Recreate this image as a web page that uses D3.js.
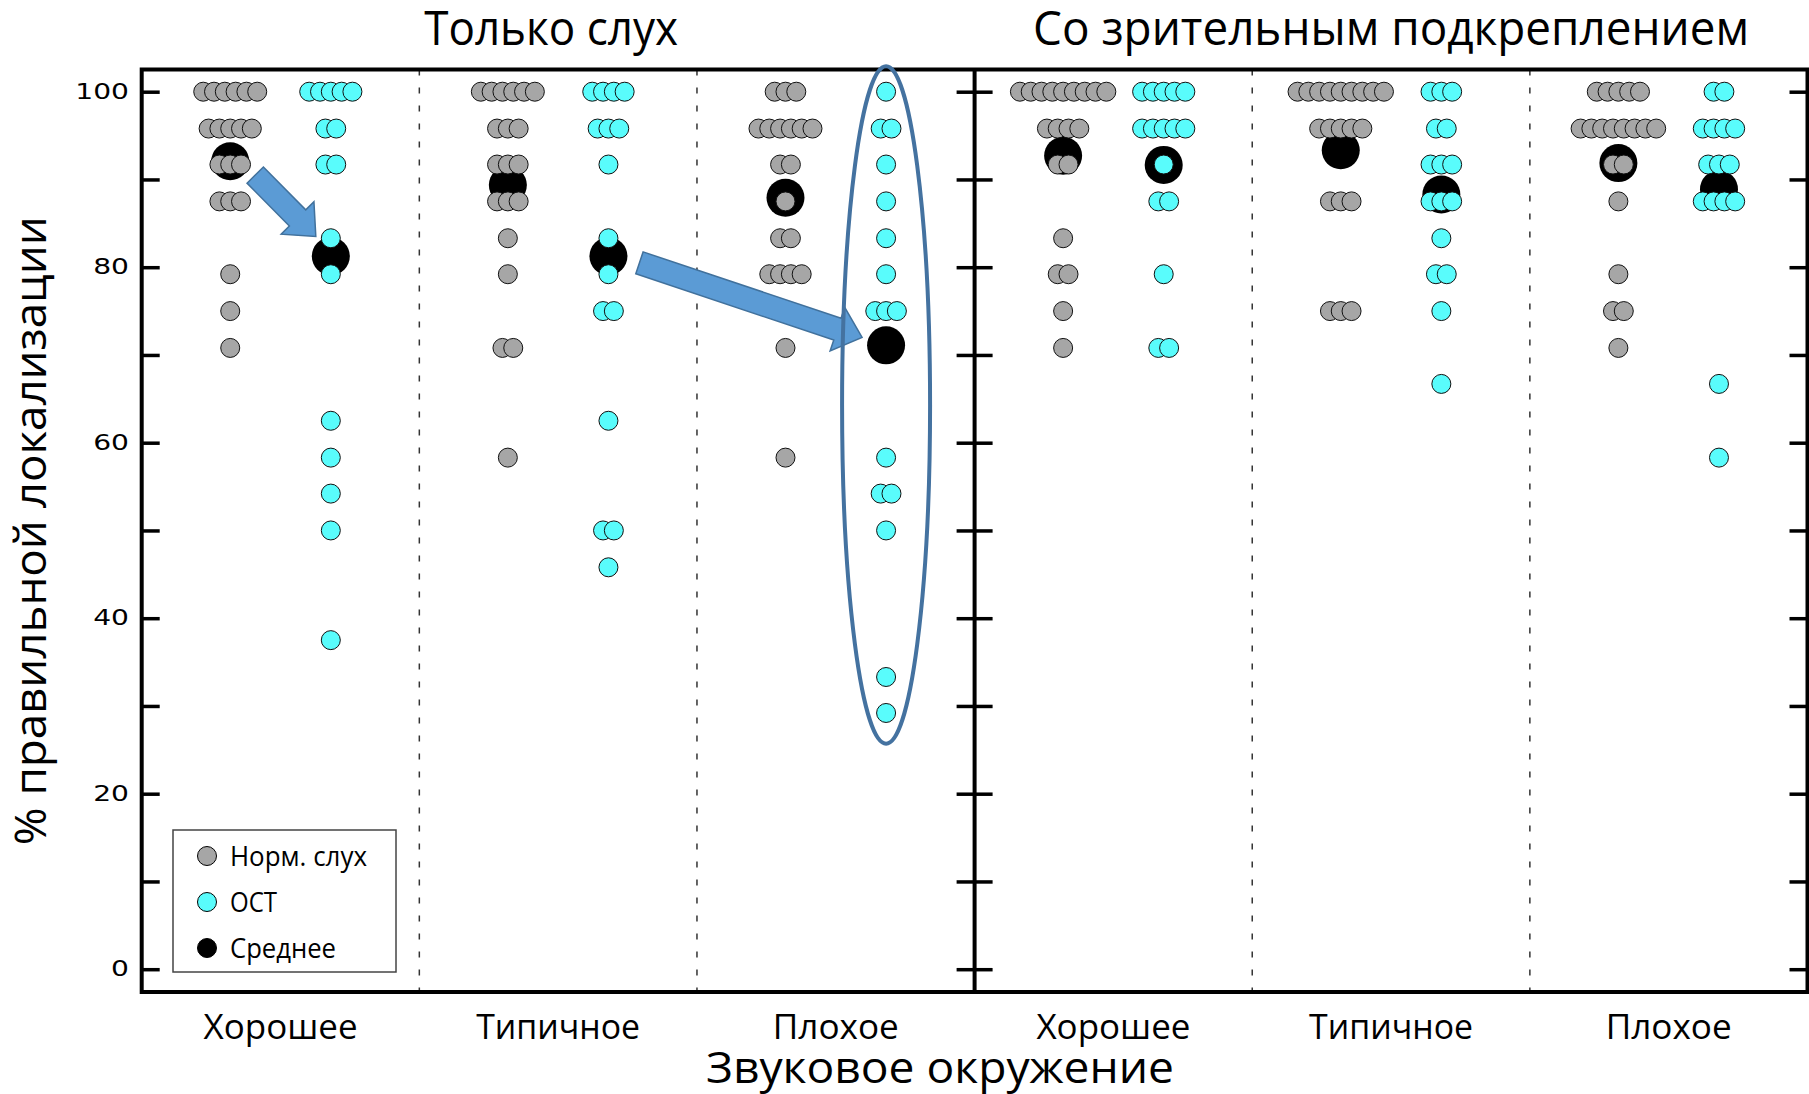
<!DOCTYPE html>
<html>
<head>
<meta charset="utf-8">
<script src="https://cdn.jsdelivr.net/npm/d3@7"></script>
<style>
  body { margin: 0; background: #fff; }
</style>
</head>
<body>
<svg id="chart" width="1809" height="1094"></svg>
<script>
// panels, environments and groups
var panels = ["Только слух", "Со зрительным подкреплением"];
var environments = ["Хорошее", "Типичное", "Плохое"];
var groups = ["Норм. слух", "ОСТ"];
var yTicks = [0, 10, 20, 30, 40, 50, 60, 70, 80, 90, 100];

// % correct, one value per subject
var audioGoodNormal = [100,100,100,100,100,100, 95.8,95.8,95.8,95.8,95.8, 91.7,91.7,91.7, 87.5,87.5,87.5, 79.2, 75, 70.8];
var audioGoodCI = [100,100,100,100,100, 95.8,95.8, 91.7,91.7, 83.3, 79.2, 62.5, 58.3, 54.2, 50, 37.5];
var audioTypicalNormal = [100,100,100,100,100,100, 95.8,95.8,95.8, 91.7,91.7,91.7, 87.5,87.5,87.5, 83.3, 79.2, 70.8,70.8, 58.3];
var audioTypicalCI = [100,100,100,100, 95.8,95.8,95.8, 91.7, 83.3, 79.2, 75,75, 62.5, 50,50, 45.8];
var audioPoorNormal = [100,100,100, 95.8,95.8,95.8,95.8,95.8,95.8, 91.7,91.7, 87.5, 83.3,83.3, 79.2,79.2,79.2,79.2, 70.8, 58.3];
var audioPoorCI = [100, 95.8,95.8, 91.7, 87.5, 83.3, 79.2, 75,75,75, 58.3, 54.2,54.2, 50, 33.3, 29.2];

var visualGoodNormal = [100,100,100,100,100,100,100,100,100, 95.8,95.8,95.8,95.8, 91.7,91.7, 83.3, 79.2,79.2, 75, 70.8];
var visualGoodCI = [100,100,100,100,100, 95.8,95.8,95.8,95.8,95.8, 91.7, 87.5,87.5, 79.2, 70.8,70.8];
var visualTypicalNormal = [100,100,100,100,100,100,100,100,100, 95.8,95.8,95.8,95.8,95.8, 87.5,87.5,87.5, 75,75,75];
var visualTypicalCI = [100,100,100, 95.8,95.8, 91.7,91.7,91.7, 87.5,87.5,87.5, 83.3, 79.2,79.2, 75, 66.7];
var visualPoorNormal = [100,100,100,100,100, 95.8,95.8,95.8,95.8,95.8,95.8,95.8,95.8, 91.7,91.7, 87.5, 79.2, 75,75, 70.8];
var visualPoorCI = [100,100, 95.8,95.8,95.8,95.8, 91.7,91.7,91.7, 87.5,87.5,87.5,87.5, 66.7, 58.3];

var table = [
  [[audioGoodNormal, audioGoodCI], [audioTypicalNormal, audioTypicalCI], [audioPoorNormal, audioPoorCI]],
  [[visualGoodNormal, visualGoodCI], [visualTypicalNormal, visualTypicalCI], [visualPoorNormal, visualPoorCI]]
];

var colors = ["#a6a6a6", "#59fcfc"];

var svg = d3.select("#chart");
var plotL = 141.7, plotR = 1807.5, plotT = 69.5, plotB = 992;

var y = d3.scaleLinear().domain([0, 100]).range([969.2, 91.7]);
var xPanel = d3.scaleBand().domain(d3.range(panels.length)).range([plotL, plotR]);
var xEnv = d3.scaleBand().domain(d3.range(environments.length)).range([0, xPanel.bandwidth()]);
var xGroup = d3.scalePoint().domain(d3.range(groups.length)).range([0, xEnv.bandwidth()]).padding(0.88);

function colX(p, e, g) { return xPanel(p) + xEnv(e) + xGroup(g); }

// dashed separators between environments
panels.forEach(function(pn, p) {
  [1, 2].forEach(function(e) {
    svg.append("line")
      .attr("x1", xPanel(p) + xEnv(e)).attr("x2", xPanel(p) + xEnv(e))
      .attr("y1", plotT).attr("y2", plotB)
      .attr("stroke", "#333").attr("stroke-width", 1.5)
      .attr("stroke-dasharray", "6,12");
  });
});

// legend box (under the data)
var legend = svg.append("g");
legend.append("rect").attr("x", 173).attr("y", 830).attr("width", 223).attr("height", 142)
  .attr("fill", "#fff").attr("stroke", "#444").attr("stroke-width", 1.5);
var legendItems = [
  { label: groups[0], fill: colors[0], w: 137 },
  { label: groups[1], fill: colors[1], w: 47 },
  { label: "Среднее", fill: "#000", w: 106 }
];
legendItems.forEach(function(d, i) {
  var ly = 856 + i * 46;
  legend.append("circle").attr("cx", 207).attr("cy", ly).attr("r", 9.5)
    .attr("fill", d.fill).attr("stroke", "#000").attr("stroke-width", 1);
  legend.append("text").attr("x", 230).attr("y", ly).attr("dy", "0.36em")
    .attr("font-family", "Open Sans").attr("font-size", 28)
    .attr("textLength", d.w).attr("lengthAdjust", "spacingAndGlyphs")
    .text(d.label);
});

// means and dots
var spacing = 10.8;
table.forEach(function(envs, p) {
  envs.forEach(function(grp, e) {
    grp.forEach(function(vals, g) {
      var cx = colX(p, e, g);
      svg.append("circle").attr("cx", cx).attr("cy", y(d3.mean(vals))).attr("r", 19).attr("fill", "#000");
      d3.groups(vals, function(v) { return v; }).forEach(function(row) {
        var n = row[1].length;
        row[1].forEach(function(v, i) {
          svg.append("circle")
            .attr("cx", cx + (i - (n - 1) / 2) * spacing)
            .attr("cy", y(v)).attr("r", 9.5)
            .attr("fill", colors[g]).attr("stroke", "#111").attr("stroke-width", 1);
        });
      });
    });
  });
});

// frame
svg.append("rect").attr("x", plotL).attr("y", plotT).attr("width", plotR - plotL).attr("height", plotB - plotT)
  .attr("fill", "none").attr("stroke", "#000").attr("stroke-width", 4);
var mid = xPanel(1);
svg.append("line").attr("x1", mid).attr("x2", mid).attr("y1", plotT).attr("y2", plotB)
  .attr("stroke", "#000").attr("stroke-width", 4);

// axes
function styleTicks(g) {
  g.select(".domain").remove();
  g.selectAll(".tick line").attr("stroke", "#000").attr("stroke-width", 3.5);
}
var yAxis = svg.append("g").attr("transform", "translate(" + plotL + ",0)")
  .call(d3.axisLeft(y).tickValues(yTicks).tickSize(-18)
    .tickFormat(function(d) { return d % 20 === 0 ? d : ""; }))
  .call(styleTicks);
yAxis.selectAll(".tick text")
  .attr("font-family", "DejaVu Sans").attr("font-size", 21).attr("fill", "#000")
  .attr("x", -9.5).attr("transform", "scale(1.34,1)");

svg.append("g").attr("transform", "translate(" + mid + ",0)")
  .call(d3.axisLeft(y).tickValues(yTicks).tickSize(18).tickFormat("")).call(styleTicks);
svg.append("g").attr("transform", "translate(" + mid + ",0)")
  .call(d3.axisRight(y).tickValues(yTicks).tickSize(18).tickFormat("")).call(styleTicks);
svg.append("g").attr("transform", "translate(" + plotR + ",0)")
  .call(d3.axisRight(y).tickValues(yTicks).tickSize(-18).tickFormat("")).call(styleTicks);

// category labels
var labelW = [154, 164, 126];
panels.forEach(function(pn, p) {
  environments.forEach(function(en, e) {
    svg.append("text")
      .attr("x", xPanel(p) + xEnv(e) + xEnv.bandwidth() / 2).attr("y", 1039)
      .attr("text-anchor", "middle").attr("font-family", "Open Sans").attr("font-size", 34)
      .attr("textLength", labelW[e]).attr("lengthAdjust", "spacingAndGlyphs")
      .text(en);
  });
});

// panel titles
var titleW = [254, 716];
panels.forEach(function(pn, p) {
  svg.append("text")
    .attr("x", xPanel(p) + xPanel.bandwidth() / 2 - (p === 0 ? 7 : 0)).attr("y", 45)
    .attr("text-anchor", "middle").attr("font-family", "Open Sans").attr("font-size", 47)
    .attr("textLength", titleW[p]).attr("lengthAdjust", "spacingAndGlyphs")
    .text(pn);
});

// axis titles
svg.append("text").attr("x", 940).attr("y", 1083).attr("text-anchor", "middle")
  .attr("font-family", "Open Sans").attr("font-size", 44)
  .attr("textLength", 468).attr("lengthAdjust", "spacingAndGlyphs")
  .text("Звуковое окружение");
svg.append("text").attr("transform", "translate(46," + ((plotT + plotB) / 2) + ") rotate(-90)")
  .attr("text-anchor", "middle").attr("font-family", "Open Sans").attr("font-size", 44)
  .attr("textLength", 629).attr("lengthAdjust", "spacingAndGlyphs")
  .text("% правильной локализации");

// annotations: block arrows and ellipse
var arrows = [
  { from: [0, 0, 0, 25, 90.5], to: [0, 0, 1, -15, 83.5] },
  { from: [0, 1, 1, 31, 80.5], to: [0, 2, 1, -24, 72.0] }
];
function arrowPath(x1, y1, x2, y2, sw, hw, hl) {
  var dx = x2 - x1, dy = y2 - y1, len = Math.sqrt(dx * dx + dy * dy);
  var ux = dx / len, uy = dy / len, nx = -uy, ny = ux;
  var bx = x2 - ux * hl, by = y2 - uy * hl;
  var pts = [
    [x1 + nx * sw / 2, y1 + ny * sw / 2],
    [bx + nx * sw / 2, by + ny * sw / 2],
    [bx + nx * hw / 2, by + ny * hw / 2],
    [x2, y2],
    [bx - nx * hw / 2, by - ny * hw / 2],
    [bx - nx * sw / 2, by - ny * sw / 2],
    [x1 - nx * sw / 2, y1 - ny * sw / 2]
  ];
  return "M" + pts.map(function(p) { return p.join(","); }).join("L") + "Z";
}
arrows.forEach(function(a) {
  var x1 = colX(a.from[0], a.from[1], a.from[2]) + a.from[3], y1 = y(a.from[4]);
  var x2 = colX(a.to[0], a.to[1], a.to[2]) + a.to[3], y2 = y(a.to[4]);
  svg.append("path").attr("d", arrowPath(x1, y1, x2, y2, 23, 46, 26))
    .attr("fill", "#5b9bd5").attr("stroke", "#41719c").attr("stroke-width", 1.5);
});
var ellipse = { panel: 0, env: 2, group: 1, top: 102.9, bottom: 25.7, rx: 44 };
svg.append("ellipse")
  .attr("cx", colX(ellipse.panel, ellipse.env, ellipse.group))
  .attr("cy", (y(ellipse.top) + y(ellipse.bottom)) / 2)
  .attr("rx", ellipse.rx).attr("ry", (y(ellipse.bottom) - y(ellipse.top)) / 2)
  .attr("fill", "none").attr("stroke", "#4472a0").attr("stroke-width", 4);
</script>
</body>
</html>
